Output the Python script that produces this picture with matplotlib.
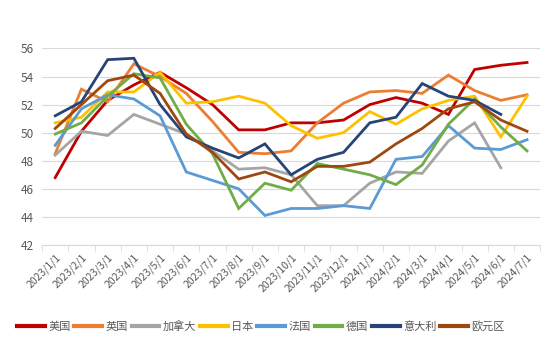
import numpy as np
import matplotlib.pyplot as plt

plt.rcParams['font.family'] = ['Noto Sans CJK SC', 'DejaVu Sans']

months = ['2023/1/1', '2023/2/1', '2023/3/1', '2023/4/1', '2023/5/1', '2023/6/1',
          '2023/7/1', '2023/8/1', '2023/9/1', '2023/10/1', '2023/11/1', '2023/12/1',
          '2024/1/1', '2024/2/1', '2024/3/1', '2024/4/1', '2024/5/1', '2024/6/1',
          '2024/7/1']

us = [46.8, 50.1, 52.3, 53.4, 54.3, 53.2, 52.0, 50.2, 50.2, 50.7, 50.7, 50.9,
      52.0, 52.5, 52.1, 51.3, 54.5, 54.8, 55.0]
uk = [48.5, 53.1, 52.2, 54.9, 54.0, 52.8, 50.8, 48.6, 48.5, 48.7, 50.7, 52.1,
      52.9, 53.0, 52.8, 54.1, 53.0, 52.3, 52.7]
canada = [48.4, 50.1, 49.8, 51.3, 50.6, 49.9, 48.7, 47.4, 47.5, 47.0, 44.8, 44.8,
          46.4, 47.2, 47.1, 49.4, 50.7, 47.5, np.nan]
japan = [50.7, 51.1, 52.9, 52.9, 54.3, 52.1, 52.2, 52.6, 52.1, 50.5, 49.6, 50.0,
         51.5, 50.6, 51.7, 52.3, 52.6, 49.7, 52.6]
france = [49.1, 51.7, 52.7, 52.4, 51.2, 47.2, 46.6, 46.0, 44.1, 44.6, 44.6, 44.8,
          44.6, 48.1, 48.3, 50.5, 48.9, 48.8, 49.5]
germany = [49.9, 50.7, 52.6, 54.2, 53.9, 50.6, 48.5, 44.6, 46.4, 45.9, 47.8, 47.4,
           47.0, 46.3, 47.7, 50.6, 52.4, 50.4, 48.7]
italy = [51.2, 52.2, 55.2, 55.3, 52.0, 49.7, 48.9, 48.2, 49.2, 47.0, 48.1, 48.6,
         50.7, 51.1, 53.5, 52.6, 52.3, 51.3, np.nan]
eurozone = [50.3, 52.0, 53.7, 54.1, 52.8, 49.9, 48.6, 46.7, 47.2, 46.5, 47.6, 47.6,
            47.9, 49.2, 50.3, 51.7, 52.2, 50.9, 50.1]

series = [('美国', us, '#C00000'), ('英国', uk, '#ED7D31'),
          ('加拿大', canada, '#A5A5A5'), ('日本', japan, '#FFC000'),
          ('法国', france, '#5B9BD5'), ('德国', germany, '#70AD47'),
          ('意大利', italy, '#264478'), ('欧元区', eurozone, '#9E480E')]

fig = plt.figure(figsize=(5.54, 3.46), dpi=100)
ax = fig.add_axes([0.076, 0.292, 0.899, 0.568])

x = np.arange(len(months))
for name, vals, col in series:
    ax.plot(x, vals, color=col, lw=2.0, label=name, solid_joinstyle='miter')

ax.set_xlim(-0.5, len(months) - 0.5)
ax.set_ylim(42, 56)
ax.set_yticks(np.arange(42, 57, 2))
ax.grid(axis='y', color='#D9D9D9', lw=0.8)
ax.set_axisbelow(True)
for s in ['left', 'right', 'top']:
    ax.spines[s].set_visible(False)
ax.spines['bottom'].set_color('#D9D9D9')
ax.tick_params(axis='y', length=0, labelsize=8.5, labelcolor='#595959', pad=6)

ax.set_xticks(x)
ax.set_xticklabels(months, rotation=45, ha='right', rotation_mode='anchor',
                   fontsize=7.5, color='#595959')
ax.tick_params(axis='x', which='major', length=0, pad=5)
ax.set_xticks(np.arange(-0.5, len(months)), minor=True)
ax.tick_params(axis='x', which='minor', length=4, color='#D9D9D9')

fig.legend(loc='center', bbox_to_anchor=(0.471, 0.058), ncol=8, frameon=False,
           fontsize=8, handlelength=2.5, handletextpad=0.3, columnspacing=0.35,
           labelcolor='#595959')
for line in fig.legends[0].get_lines():
    line.set_linewidth(3)

fig.savefig('out.png', dpi=100)
